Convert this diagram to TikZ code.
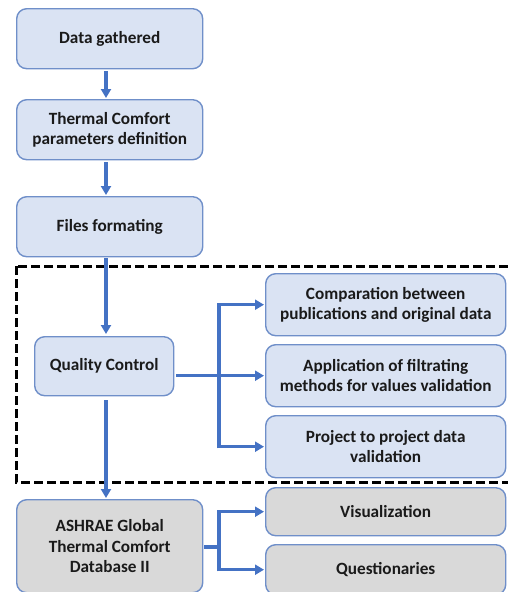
\documentclass[tikz,border=0pt]{standalone}
\usepackage{fontspec}
\setmainfont{Carlito}
\usetikzlibrary{arrows.meta,calc}
\definecolor{boxblue}{HTML}{DAE3F3}
\definecolor{boxgray}{HTML}{D9D9D9}
\definecolor{edgeblue}{HTML}{6F8FC9}
\definecolor{linkblue}{HTML}{4472C4}
\definecolor{txt}{HTML}{1A1A1A}
\begin{document}
\begin{tikzpicture}[x=1pt,y=-1pt,
  stagebox/.style={draw=edgeblue,line width=1.4pt,rounded corners=10pt,
    anchor=north west,inner sep=0pt,align=center,text=txt,
    font=\fontsize{17.2}{20.5}\selectfont\bfseries},
  bluebox/.style={stagebox,fill=boxblue},
  graybox/.style={stagebox,fill=boxgray},
  link/.style={draw=linkblue,line width=3.4pt,
    -{Triangle[length=9pt,width=10pt]}},
  trunk/.style={draw=linkblue,line width=3.4pt},
  groupframe/.style={draw=black,line width=3pt,dash pattern=on 9pt off 4pt}
]
\useasboundingbox (0,0) rectangle (508,592);

% main chain
\node[bluebox,minimum width=186pt,minimum height=60pt] (gather) at (16,8) {Data gathered};
\node[bluebox,minimum width=186pt,minimum height=60pt] (params) at (16,99) {Thermal Comfort\\parameters definition};
\node[bluebox,minimum width=186pt,minimum height=60pt] (format) at (16,196) {Files formating};
\node[bluebox,minimum width=139pt,minimum height=59pt] (qc) at (34,336) {Quality Control};
\node[graybox,minimum width=186pt,minimum height=93pt] (ashrae) at (16,499) {ASHRAE Global\\Thermal Comfort\\Database II};

% quality-control checks
\node[bluebox,minimum width=240pt,minimum height=62pt] (compare) at (265,273) {Comparation between\\publications and original data};
\node[bluebox,minimum width=240pt,minimum height=62pt] (filter) at (265,344) {Application of filtrating\\methods for values validation};
\node[bluebox,minimum width=240pt,minimum height=62pt] (project) at (265,415) {Project to project data\\validation};

% outputs
\node[graybox,minimum width=240pt,minimum height=48pt] (visual) at (265,487) {Visualization};
\node[graybox,minimum width=240pt,minimum height=50pt] (quest) at (265,544) {Questionaries};

% dashed frame around the quality-control stage
\draw[groupframe] (16,266) rectangle (514,482);

% vertical flow
\coordinate (spine) at (106,0);
\draw[link] ($(spine |- gather.south)+(0,2)$) -- ($(spine |- params.north)+(0,-1)$);
\draw[link] ($(spine |- params.south)+(0,2)$) -- ($(spine |- format.north)+(0,-1)$);
\draw[link] ($(spine |- format.south)+(0,1)$) -- ($(spine |- qc.north)+(0,-2)$);
\draw[link] ($(spine |- qc.south)+(0,4)$) -- ($(spine |- ashrae.north)+(0,-1)$);

% branch from quality control
\coordinate (qcfork) at (219,0);
\draw[trunk] ($(qc.east |- filter.west)+(2,0)$) -- (qcfork |- filter.west);
\draw[link] (qcfork |- filter.west) -- ($(filter.west)+(-1,0)$);
\draw[link] ([yshift=-1.7pt]qcfork |- project.west) -- (qcfork |- compare.west) -- ($(compare.west)+(-1,0)$);
\draw[link] (qcfork |- project.west) -- ($(project.west)+(-1,0)$);

% branch from the database
\coordinate (dbfork) at (219,547);
\draw[trunk] ($(ashrae.east |- dbfork)+(1,0)$) -- (dbfork);
\draw[link] ([yshift=-1.7pt]qcfork |- quest.west) -- (qcfork |- visual.west) -- ($(visual.west)+(-1,0)$);
\draw[link] ([yshift=1.7pt]qcfork |- visual.west) -- (qcfork |- quest.west) -- ($(quest.west)+(-1,0)$);
\end{tikzpicture}
\end{document}
